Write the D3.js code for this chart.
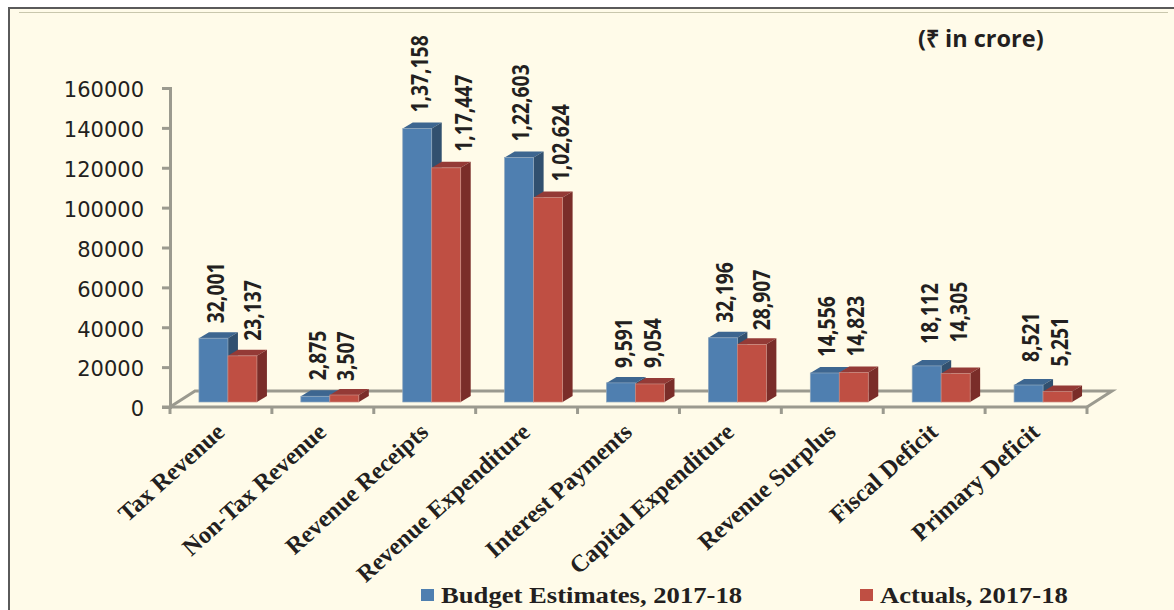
<!DOCTYPE html>
<html>
<head>
<meta charset="utf-8">
<script src="https://cdn.jsdelivr.net/npm/d3@7"></script>
<style>
html, body { margin: 0; padding: 0; background: #fff; overflow: hidden; }
svg { display: block; }
.yTick { font-family: "DejaVu Sans"; font-size: 21px; fill: #231f20; }
.barLabel { font-family: "Open Sans"; font-weight: 700; font-size: 23px; fill: #231f20; }
.catLabel { font-family: "Liberation Serif"; font-weight: bold; font-size: 24.2px; fill: #231f20; }
.legendText { font-family: "Liberation Serif"; font-weight: bold; font-size: 24px; fill: #231f20; }
.unit { font-family: "Open Sans"; font-weight: bold; font-size: 23.5px; fill: #231f20; }
</style>
</head>
<body>
<script>
var categories = ["Tax Revenue", "Non-Tax Revenue", "Revenue Receipts", "Revenue Expenditure",
    "Interest Payments", "Capital Expenditure", "Revenue Surplus", "Fiscal Deficit", "Primary Deficit"];
var budget = [32001, 2875, 137158, 122603, 9591, 32196, 14556, 18112, 8521];
var actuals = [23137, 3507, 117447, 102624, 9054, 28907, 14823, 14305, 5251];
var budgetLabels = ["32,001", "2,875", "1,37,158", "1,22,603", "9,591", "32,196", "14,556", "18,112", "8,521"];
var actualLabels = ["23,137", "3,507", "1,17,447", "1,02,624", "9,054", "28,907", "14,823", "14,305", "5,251"];
var yTicks = [0, 20000, 40000, 60000, 80000, 100000, 120000, 140000, 160000];
var seriesNames = ["Budget Estimates, 2017-18", "Actuals, 2017-18"];

// the labels were nudged by hand in the original
var budgetNudge = [1.5, 1.5, 1.5, 1, 1.5, 1.5, 1.5, 2, 1];
var budgetGap = [15, 16, 16, 16, 15, 15, 16, 22, 23];
var actualNudge = [10, .5, 16.5, 11.5, 2.5, 9.5, 1.5, 2, 1];
var actualGap = [15, 14, 16, 16, 16, 14, 16, 31, 25];

var width = 1174, height = 610;
var axisColor = "#9b9a8f";
var colors = [
    { front: "#4f7fb0", top: "#3d6690", side: "#31506f", edge: "#8ea6bd" },
    { front: "#bf4f43", top: "#943a36", side: "#7a2d29", edge: "#c98a80" }
];
// 3d floor / bar offsets
var floorDx = 25, floorDy = 16;
var barDx = 10, barDy = 6, barLift = 5;

var svg = d3.select("body").append("svg")
    .attr("width", width)
    .attr("height", height);

// panel
svg.append("rect").attr("x", 9).attr("y", 8).attr("width", width).attr("height", height)
    .attr("fill", "#fffbe9").attr("stroke", "#5a5a5a").attr("stroke-width", 2);
svg.append("line").attr("x1", 19).attr("x2", 1168).attr("y1", 12.5).attr("y2", 12.5)
    .attr("stroke", "#c9c7ad").attr("stroke-width", 1);

//scales
var x = d3.scaleBand().domain(d3.range(categories.length))
    .range([170, 1087]).paddingInner(.431).paddingOuter(.2155);
var y = d3.scaleLinear().domain([0, 160000]).range([407, 88]);
var xTicks = d3.scaleLinear().domain([0, categories.length]).range([170, 1087]);

// floor
var x0 = xTicks(0), x1 = xTicks(categories.length), y0 = y(0);
svg.append("path")
    .attr("d", d3.line()([[x0, y0], [x0 + floorDx, y0 - floorDy], [x1 + floorDx, y0 - floorDy], [x1, y0]]))
    .attr("fill", "none").attr("stroke", axisColor).attr("stroke-width", 3);

// y axis
var yAxis = d3.axisLeft(y).tickValues(yTicks).tickSize(8).tickSizeOuter(8).tickPadding(18)
    .tickFormat(d3.format("d"));
var yG = svg.append("g").attr("transform", "translate(" + x0 + ",0)").call(yAxis);
yG.selectAll("path, line").attr("stroke", axisColor).attr("stroke-width", 3);
yG.selectAll("text").attr("class", "yTick").attr("font-family", null).attr("font-size", null)
    .attr("dy", "0.42em");

// x axis
svg.append("line").attr("x1", x0 - 8).attr("x2", x1).attr("y1", y0).attr("y2", y0)
    .attr("stroke", axisColor).attr("stroke-width", 3);
svg.append("g").selectAll("line")
    .data(d3.range(categories.length + 1))
    .enter().append("line")
    .attr("x1", function (d) { return xTicks(d); })
    .attr("x2", function (d) { return xTicks(d); })
    .attr("y1", y0)
    .attr("y2", y0 + 7)
    .attr("stroke", axisColor).attr("stroke-width", 3);

var barW = x.bandwidth() / 2;
var shift = 7;

function drawBars(values, s) {
    var g = svg.append("g");
    function left(i) { return x(i) + shift + s * barW; }
    function top(d) { return y(d) - barLift; }
    var base = y0 - barLift;
    var bars = g.selectAll("g").data(values).enter().append("g");
    // top face
    bars.append("path").attr("fill", colors[s].top)
        .attr("d", function (d, i) {
            return d3.line()([[left(i), top(d)], [left(i) + barDx, top(d) - barDy],
                [left(i) + barW + barDx, top(d) - barDy], [left(i) + barW, top(d)]]) + "Z";
        });
    // side face
    bars.append("path").attr("fill", colors[s].side)
        .attr("d", function (d, i) {
            return d3.line()([[left(i) + barW, top(d)], [left(i) + barW + barDx, top(d) - barDy],
                [left(i) + barW + barDx, base - barDy], [left(i) + barW, base]]) + "Z";
        });
    // front face
    bars.append("rect").attr("fill", colors[s].front)
        .attr("stroke", colors[s].edge).attr("stroke-width", .7)
        .attr("x", function (d, i) { return left(i); })
        .attr("y", function (d) { return top(d); })
        .attr("width", barW)
        .attr("height", function (d) { return base - top(d); });
    return { left: left, top: top };
}

var b0 = drawBars(budget, 0);
var b1 = drawBars(actuals, 1);

function drawLabels(values, labels, b, nudge, gap) {
    svg.append("g").selectAll("text")
        .data(values)
        .enter().append("text")
        .attr("class", "barLabel")
        .attr("transform", function (d, i) {
            return "translate(" + (b.left(i) + barW / 2 + nudge[i] + 9) + "," + (b.top(d) - gap[i]) + ") rotate(-90) scale(.84,1)";
        })
        .text(function (d, i) { return labels[i]; });
}
drawLabels(budget, budgetLabels, b0, budgetNudge, budgetGap);
drawLabels(actuals, actualLabels, b1, actualNudge, actualGap);

// category labels
svg.append("g").selectAll("text")
    .data(categories)
    .enter().append("text")
    .attr("class", "catLabel")
    .attr("text-anchor", "end")
    .attr("transform", function (d, i) {
        return "translate(" + (xTicks(i + .5) + 5) + ",434) rotate(-42)";
    })
    .text(function (d) { return d; });

// legend
var legendX = [421, 860];
var legend = svg.append("g").selectAll("g")
    .data(seriesNames)
    .enter().append("g")
    .attr("transform", function (d, i) { return "translate(" + legendX[i] + ",589)"; });
legend.append("rect").attr("width", 13).attr("height", 12)
    .attr("fill", function (d, i) { return colors[i].front; });
legend.append("text").attr("class", "legendText")
    .attr("transform", "translate(20,14) scale(1.11,1)")
    .text(function (d) { return d; });

svg.append("text").attr("class", "unit").attr("x", 918).attr("y", 47).text("(₹ in crore)");
</script>
</body>
</html>
